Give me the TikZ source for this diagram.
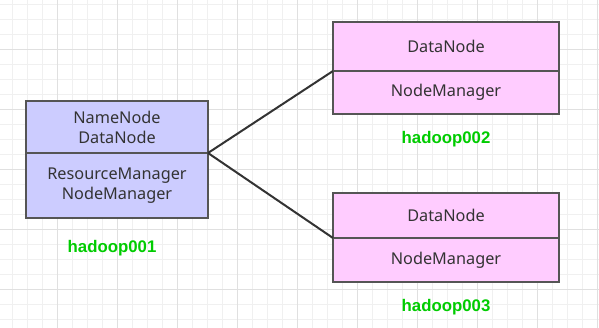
\documentclass[tikz,border=0pt]{standalone}
\usepackage{fontspec}
\setmainfont{Noto Sans}
\newfontfamily\hostfont{Liberation Sans}
\usetikzlibrary{positioning}

\definecolor{hostblue}{HTML}{CCCCFF}
\definecolor{hostpink}{HTML}{FFCCFF}
\definecolor{boxline}{HTML}{555555}
\definecolor{linkline}{HTML}{333333}
\definecolor{hostgreen}{HTML}{00CC00}
\definecolor{gridminor}{HTML}{F0F0F0}
\definecolor{gridmajor}{HTML}{E0E0E0}

\begin{document}
\begin{tikzpicture}[
    x=0.75pt, y=-0.75pt,
    part/.style={draw=boxline, line width=1.5pt, fill=#1, align=center, inner sep=0pt, outer sep=0pt,
                 font=\fontsize{12.2}{15}\selectfont, text=black!80},
    part/.default=hostblue,
    masterpart/.style={part=hostblue, minimum width=136.5pt},
    workerpart/.style={part=hostpink, minimum width=169.5pt},
    hostlabel/.style={font=\hostfont\fontsize{12.6}{14}\selectfont\bfseries, text=hostgreen, inner sep=0pt},
    link/.style={draw=linkline, line width=1.5pt},
    gridline/.style={draw=#1, line width=0.75pt}
]

% --- Canvas and grid ---
\useasboundingbox (0,0) rectangle (599,328);
\fill[white] (0,0) rectangle (599,328);
\foreach \x in {12.7,27.7,...,598} {
    \draw[gridline=gridminor] (\x,0) -- (\x,328);
}
\foreach \y in {4.5,19.5,...,328} {
    \draw[gridline=gridminor] (0,\y) -- (599,\y);
}
\foreach \x in {57.7,117.7,...,598} {
    \draw[gridline=gridmajor] (\x,0) -- (\x,328);
}
\foreach \y in {49.5,109.5,...,328} {
    \draw[gridline=gridmajor] (0,\y) -- (599,\y);
}

% --- Master host ---
\node[masterpart, minimum height=39pt, anchor=north west] (nn-top) at (26,101) {NameNode\\DataNode};
\node[masterpart, minimum height=48.75pt, below=0pt of nn-top] (nn-bot) {ResourceManager\\NodeManager};
\node[hostlabel] (h001) at (112,248) {hadoop001};

% --- Worker hosts ---
\node[workerpart, minimum height=36.75pt, anchor=north west] (dn2-top) at (333,22) {DataNode};
\node[workerpart, minimum height=32.25pt, below=0pt of dn2-top] (dn2-bot) {NodeManager};
\node[hostlabel] (h002) at (446,139) {hadoop002};

\node[workerpart, minimum height=33.75pt, anchor=north west] (dn3-top) at (333,193) {DataNode};
\node[workerpart, minimum height=33pt, below=0pt of dn3-top] (dn3-bot) {NodeManager};
\node[hostlabel] (h003) at (446,307) {hadoop003};

% --- Links ---
\draw[link] (nn-bot.north east) -- (dn2-bot.north west);
\draw[link] (nn-bot.north east) -- (dn3-bot.north west);

\end{tikzpicture}
\end{document}
